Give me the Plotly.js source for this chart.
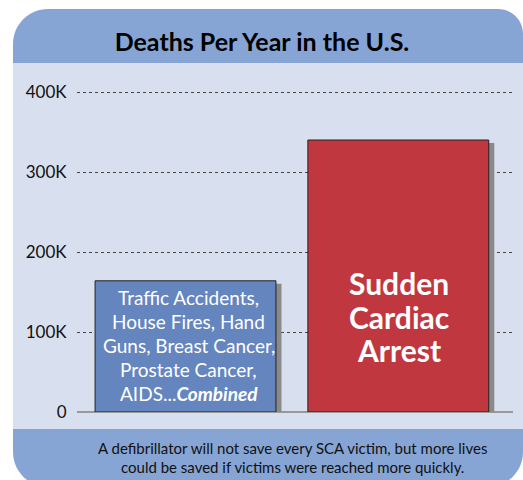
<!DOCTYPE html>
<html>
<head>
<meta charset="utf-8">
<script src="https://cdn.plot.ly/plotly-3.0.1.min.js"></script>
<style>
html,body{margin:0;padding:0;background:#fff;}
#chart{width:523px;height:480px;}
</style>
</head>
<body>
<div id="chart"></div>
<script>
// ---- data ----
var categories = ['Combined causes', 'Sudden Cardiac Arrest'];
var deaths = [164000, 340000];
var barColors = ['#6585BF', '#C1373F'];
var tickValues = [0, 100000, 200000, 300000, 400000];
var tickLabels = ['0', '100K', '200K', '300K', '400K'];
var blueLines = ['Traffic Accidents,', 'House Fires, Hand', 'Guns, Breast Cancer,', 'Prostate Cancer,', 'AIDS...<b><i>Combined</i></b>'];
var redLines = ['Sudden', 'Cardiac', 'Arrest'];
var titleText = '<b>Deaths Per Year in the U.S.</b>';
var footerLines = ['A defibrillator will not save every SCA victim, but more lives', 'could be saved if victims were reached more quickly.'];

// ---- geometry helpers (decoration only) ----
var W = 523, H = 480;
function px(x, y) { return (x / W).toFixed(5) + ',' + (1 - y / H).toFixed(5); }
var K = 0.5523;

var headerColor = '#86A5D4';
var panelColor = '#D8DFEF';

var r1 = 35, r2 = 25;
var headerPath = 'M' + px(13, 63) + ' L' + px(13, 9 + r1) +
  ' C' + px(13, 9 + r1 - K * r1) + ' ' + px(13 + r1 - K * r1, 9) + ' ' + px(13 + r1, 9) +
  ' L' + px(523 - r2, 9) +
  ' C' + px(523 - r2 + K * r2, 9) + ' ' + px(523, 9 + r2 - K * r2) + ' ' + px(523, 9 + r2) +
  ' L' + px(523, 63) + ' Z';
var r3 = 35, fb = 487;
var footerPath = 'M' + px(13, 429) + ' L' + px(523, 429) + ' L' + px(523, fb - r3) +
  ' C' + px(523, fb - r3 + K * r3) + ' ' + px(523 - r3 + K * r3, fb) + ' ' + px(523 - r3, fb) +
  ' L' + px(13 + r3, fb) +
  ' C' + px(13 + r3 - K * r3, fb) + ' ' + px(13, fb - r3 + K * r3) + ' ' + px(13, fb - r3) + ' Z';

var shapes = [
  {type: 'rect', xref: 'paper', yref: 'paper', x0: 13 / W, x1: 1, y0: 1 - 429 / H, y1: 1 - 63 / H,
   fillcolor: panelColor, line: {width: 0}, layer: 'below'},
  {type: 'path', xref: 'paper', yref: 'paper', path: headerPath, fillcolor: headerColor, line: {width: 0}, layer: 'below'},
  {type: 'path', xref: 'paper', yref: 'paper', path: footerPath, fillcolor: headerColor, line: {width: 0}, layer: 'below'}
];

// ---- traces ----
var barWidth = 0.85;
var shadowDx = 0.026;
var shadowDrop = 3750;
var shadow = {
  type: 'bar', x: categories, y: deaths.map(function (v) { return v - shadowDrop; }),
  width: barWidth, offset: -barWidth / 2 + shadowDx,
  marker: {color: '#8A8A8A', line: {width: 0}}, hoverinfo: 'skip', showlegend: false
};
var bars = {
  type: 'bar', x: categories, y: deaths, width: barWidth, offset: -barWidth / 2,
  marker: {color: barColors, line: {color: '#222', width: 1}}, hoverinfo: 'skip', showlegend: false
};

// ---- annotations ----
var annotations = [];
blueLines.forEach(function (t, i) {
  annotations.push({x: categories[0], y: 0, xref: 'x', yref: 'y', text: t, showarrow: false,
    xanchor: 'center', yanchor: 'middle', xshift: 3, yshift: 115 - 24 * i,
    font: {family: 'Lato, sans-serif', size: 19, color: '#ffffff'}});
});
redLines.forEach(function (t, i) {
  annotations.push({x: categories[1], y: 0, xref: 'x', yref: 'y', text: '<b>' + t + '</b>', showarrow: false,
    xanchor: 'center', yanchor: 'middle', xshift: 1, yshift: 129 - 33.5 * i,
    font: {family: 'Lato, sans-serif', size: 30, color: '#ffffff'}});
});
footerLines.forEach(function (t, i) {
  annotations.push({x: 292.5 / W, y: 1 - (448 + 19 * i) / H, xref: 'paper', yref: 'paper', text: t, showarrow: false,
    xanchor: 'center', yanchor: 'middle',
    font: {family: 'Lato, sans-serif', size: 15, color: '#111111'}});
});

var layout = {
  width: W, height: H,
  margin: {l: 0, r: 0, t: 0, b: 0, pad: 0},
  paper_bgcolor: '#ffffff', plot_bgcolor: 'rgba(0,0,0,0)',
  barmode: 'overlay',
  title: {text: titleText, x: 262 / W, xanchor: 'center', y: 1 - 42 / H, yanchor: 'middle',
    font: {family: 'Lato, sans-serif', size: 25, color: '#000000'}},
  xaxis: {domain: [77 / W, 513 / W], range: [-0.51, 1.539], showticklabels: false, showgrid: false,
    zeroline: false, showline: false, ticks: '', fixedrange: true},
  yaxis: {domain: [1 - 412 / H, 1 - 76 / H], range: [0, 420000], tickvals: tickValues, ticktext: tickLabels,
    showgrid: true, gridcolor: '#444444', gridwidth: 1, griddash: '3px,3px',
    zeroline: true, zerolinecolor: '#999999', zerolinewidth: 2,
    showline: false, ticks: 'outside', ticklen: 6, tickcolor: 'rgba(0,0,0,0)',
    tickfont: {family: 'Lato, sans-serif', size: 17, color: '#111111'}, fixedrange: true},
  shapes: shapes,
  annotations: annotations
};

Plotly.newPlot('chart', [shadow, bars], layout, {displayModeBar: false, staticPlot: true});
</script>
</body>
</html>
